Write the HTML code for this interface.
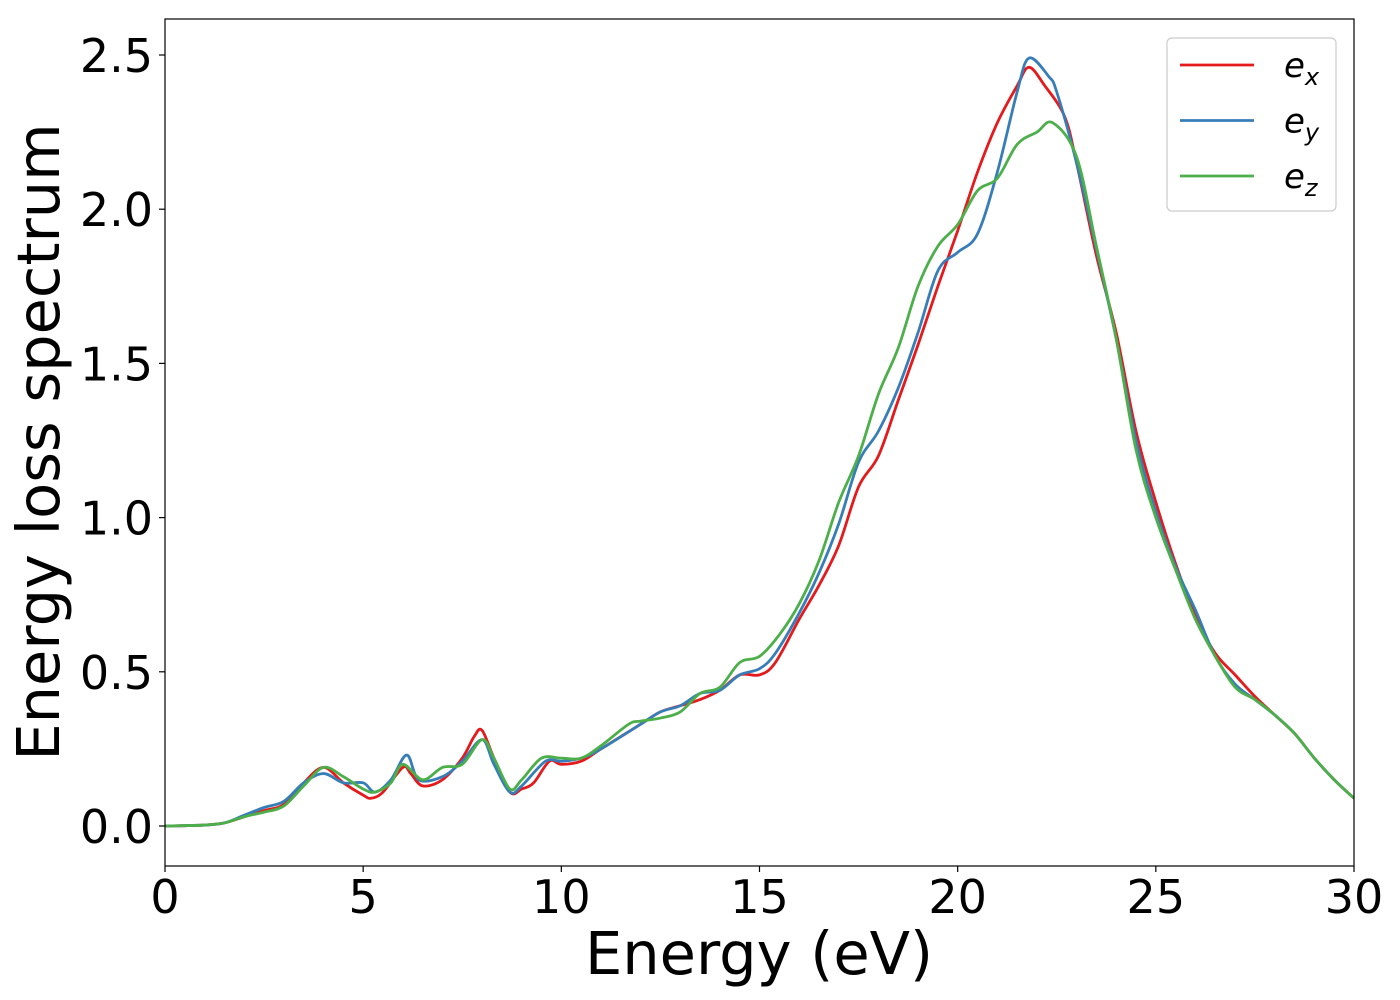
<!DOCTYPE html>
<html><head><meta charset="utf-8"><style>
html,body{margin:0;padding:0;background:#fff;}
svg{display:block;font-family:"DejaVu Sans","Liberation Sans",sans-serif;}
</style></head><body>
<svg id="chart" width="1400" height="1000" viewBox="0 0 1400 1000" xmlns="http://www.w3.org/2000/svg">
<g id="plot"></g>
</svg>
<script>
const xTicks=[0,5,10,15,20,25,30];
const yTicks=[0.0,0.5,1.0,1.5,2.0,2.5];
const yTickLabels=["0.0","0.5","1.0","1.5","2.0","2.5"];
const seriesNames=["x","y","z"];
const exX=[0,1,1.5,2,2.5,3,3.5,4,4.5,5,5.2,5.5,6,6.2,6.5,7,7.5,7.8,8,8.3,8.7,9,9.3,9.7,10,10.5,11,12,12.5,13,13.5,14,14.5,15,15.4,16,16.5,17,17.5,18,18.5,19,19.5,20,20.5,21,21.5,21.8,22.2,22.7,23,23.5,24,24.5,25,25.5,26,26.5,27,27.5,28,28.5,29,29.5,30];
const exY=[0,0.003,0.01,0.03,0.05,0.07,0.14,0.19,0.14,0.1,0.09,0.11,0.19,0.17,0.13,0.15,0.22,0.29,0.31,0.22,0.11,0.12,0.14,0.21,0.2,0.21,0.25,0.33,0.37,0.39,0.41,0.44,0.49,0.49,0.53,0.67,0.78,0.91,1.1,1.2,1.38,1.56,1.75,1.93,2.12,2.28,2.4,2.46,2.4,2.3,2.15,1.85,1.6,1.28,1.05,0.85,0.68,0.56,0.49,0.42,0.36,0.3,0.22,0.15,0.09];
const eyX=[0,1,1.5,2,2.5,3,3.5,4,4.5,5,5.3,5.7,6.1,6.4,7,7.5,8,8.3,8.7,9,9.6,10,10.5,11,12,12.5,13,13.5,14,14.5,15,15.4,16,16.5,17,17.5,18,18.5,19,19.5,20,20.5,21,21.5,21.8,22.3,22.5,23,23.5,24,24.5,25,25.5,26,26.5,27,27.5,28,28.5,29,29.5,30];
const eyY=[0,0.003,0.01,0.035,0.06,0.08,0.14,0.17,0.14,0.14,0.11,0.15,0.23,0.15,0.16,0.21,0.28,0.2,0.11,0.13,0.21,0.21,0.22,0.25,0.33,0.37,0.39,0.43,0.44,0.49,0.51,0.56,0.69,0.82,0.98,1.18,1.28,1.42,1.6,1.8,1.86,1.92,2.12,2.38,2.49,2.43,2.38,2.15,1.87,1.58,1.25,1.02,0.84,0.7,0.55,0.46,0.41,0.36,0.3,0.22,0.15,0.09];
const ezX=[0,1,1.5,2,2.5,3,3.5,4,4.5,5,5.3,5.7,6,6.5,7,7.5,8,8.3,8.7,9,9.5,10,10.5,11,11.7,12,12.5,13,13.5,14,14.5,15,15.5,16,16.5,17,17.5,18,18.5,19,19.5,20,20.5,21,21.5,22,22.4,23,23.5,24,24.5,25,25.5,26,26.5,27,27.5,28,28.5,29,29.5,30];
const ezY=[0,0.003,0.01,0.03,0.045,0.065,0.13,0.19,0.16,0.12,0.11,0.14,0.2,0.15,0.19,0.2,0.28,0.22,0.12,0.15,0.22,0.22,0.22,0.26,0.33,0.34,0.35,0.37,0.43,0.45,0.53,0.55,0.62,0.72,0.86,1.05,1.2,1.4,1.55,1.75,1.88,1.95,2.06,2.1,2.21,2.25,2.28,2.17,1.88,1.58,1.22,1.0,0.83,0.67,0.55,0.45,0.41,0.36,0.3,0.22,0.15,0.09];
const colors=["#e41a1c","#377eb8","#4daf4a"];
const L=165,R=1354,T=19,B=866;
const sx=v=>L+(v-0)/30*(R-L);
const sy=v=>826-v*308.4;
const NS="http://www.w3.org/2000/svg";
const g=document.getElementById('plot');
function mk(t,a,p){const e=document.createElementNS(NS,t);for(const k in a)e.setAttribute(k,a[k]);(p||g).appendChild(e);return e;}
function path(xs,ys){const P=xs.map((x,i)=>[sx(x),sy(ys[i])]);let d="M"+P[0][0]+","+P[0][1];
for(let i=0;i<P.length-1;i++){const p0=P[Math.max(0,i-1)],p1=P[i],p2=P[i+1],p3=P[Math.min(P.length-1,i+2)];
d+=" C"+(p1[0]+(p2[0]-p0[0])/6)+","+(p1[1]+(p2[1]-p0[1])/6)+" "+(p2[0]-(p3[0]-p1[0])/6)+","+(p2[1]-(p3[1]-p1[1])/6)+" "+p2[0]+","+p2[1];}return d;}
const defs=mk('defs',{});const cp=mk('clipPath',{id:'clip'},defs);mk('rect',{x:L,y:T,width:R-L,height:B-T},cp);
const data=[[exX,exY],[eyX,eyY],[ezX,ezY]];
data.forEach((s,i)=>{const p=mk('path',{d:path(s[0],s[1]),fill:'none',stroke:colors[i],'stroke-width':2.8,'clip-path':'url(#clip)'});

});
const frame=mk('rect',{x:L,y:T,width:R-L,height:B-T,fill:'none',stroke:'#000','stroke-width':1.2});


xTicks.forEach(v=>{mk('line',{x1:sx(v),x2:sx(v),y1:B,y2:B+6,stroke:'#000','stroke-width':1.2});
const t=mk('text',{x:sx(v),y:913,'font-size':46,'text-anchor':'middle'});t.textContent=v;

});
yTicks.forEach((v,i)=>{mk('line',{x1:L-6,x2:L,y1:sy(v),y2:sy(v),stroke:'#000','stroke-width':1.2});
const t=mk('text',{x:153,y:sy(v)+17,'font-size':46,'text-anchor':'end'});t.textContent=yTickLabels[i];

});
const xt=mk('text',{x:759,y:974,'font-size':59,'text-anchor':'middle'});xt.textContent="Energy (eV)";


const yt=mk('text',{x:0,y:0,'font-size':59,'text-anchor':'middle',transform:'translate(59,442) rotate(-90)'});yt.textContent="Energy loss spectrum";


const lg=mk('g',{});


mk('rect',{x:1167,y:38,width:169,height:173,rx:5,fill:'#fff',stroke:'#ccc','stroke-width':1.2,'fill-opacity':0.8},lg);
seriesNames.forEach((n,i)=>{const y=65+i*55.5;
const e=mk('g',{},lg);


mk('line',{x1:1180,x2:1254,y1:y,y2:y,stroke:colors[i],'stroke-width':2.8},e);
const t=mk('text',{x:1284,y:y+12,'font-size':34,'font-style':'italic'},e);t.textContent="e";
const s=mk('tspan',{'font-size':24,dy:8},t);s.textContent=n;});
</script>
</body></html>
